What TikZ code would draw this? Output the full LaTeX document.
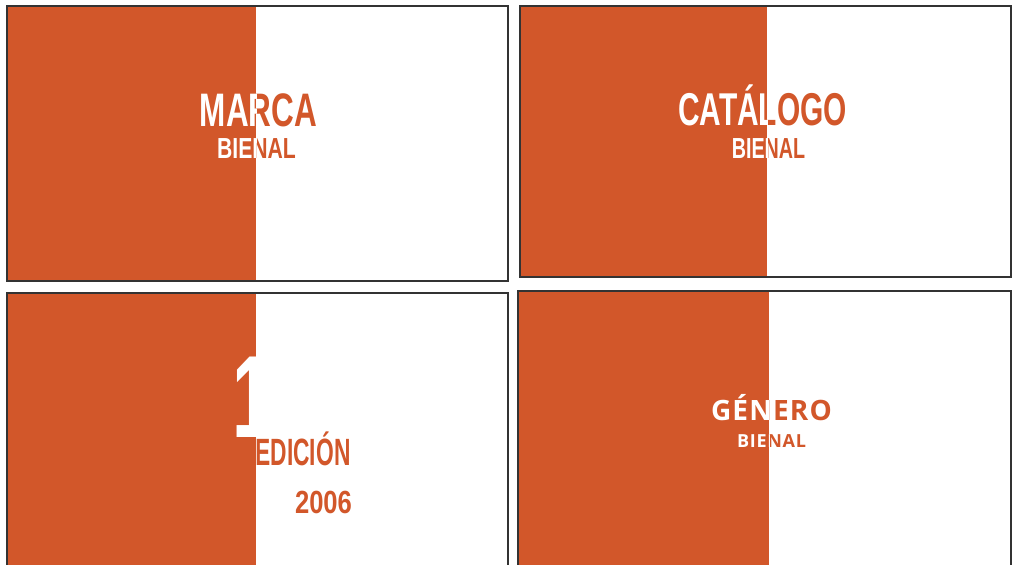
\documentclass[tikz,border=0pt]{standalone}
\usepackage{fontspec}
\setmainfont{Liberation Sans}
\newfontfamily\opensansfont[LetterSpace=4]{Open Sans}
\definecolor{bienorange}{HTML}{D2572A}
\definecolor{frame}{HTML}{333333}
\tikzset{
  panelframe/.style={draw=frame, line width=2.8pt},
  leftpart/.style={fill=bienorange, draw=none},
  rightpart/.style={fill=white, draw=none},
  condtext/.style={inner sep=0pt, anchor=base, font=\bfseries},
  ortext/.style={text=bienorange},
  whtext/.style={text=white},
}
\newcommand\cond[3]{\scalebox{#1}[1]{\fontsize{#2}{#2}\selectfont #3}}
\begin{document}
\begin{tikzpicture}[x=1pt,y=-1pt]
\useasboundingbox (0,0) rectangle (1013,565);
\fill[white] (0,0) rectangle (1013,565);

% ---------- Panel 1: MARCA ----------
\fill[leftpart] (7,6) rectangle (256,281);
\fill[rightpart] (256,6) rectangle (508,281);
\node[condtext,ortext] (marca) at (258.5,126) {\cond{0.67}{47}{MARCA}};
\node[condtext,ortext] (bienalA) at (256.5,158) {\cond{0.73}{29}{BIENAL}};
\begin{scope}
\clip (7,6) rectangle (256,281);
\node[condtext,whtext] (marcaW) at (258.5,126) {\cond{0.67}{47}{MARCA}};
\node[condtext,whtext] (bienalAW) at (256.5,158) {\cond{0.73}{29}{BIENAL}};
\end{scope}
\draw[panelframe] (7,6) rectangle (508,281);

% ---------- Panel 2: CATÁLOGO ----------
\fill[leftpart] (520,6) rectangle (767,277);
\fill[rightpart] (767,6) rectangle (1011,277);
\node[condtext,ortext] (catalogo) at (762.5,125) {\cond{0.65}{46}{CATÁLOGO}};
\node[condtext,ortext] (bienalB) at (768.5,158) {\cond{0.68}{29}{BIENAL}};
\begin{scope}
\clip (520,6) rectangle (767,277);
\node[condtext,whtext] (catalogoW) at (762.5,125) {\cond{0.65}{46}{CATÁLOGO}};
\node[condtext,whtext] (bienalBW) at (768.5,158) {\cond{0.68}{29}{BIENAL}};
\end{scope}
\draw[panelframe] (520,6) rectangle (1011,277);

% ---------- Panel 3: 1 EDICIÓN 2006 ----------
\fill[leftpart] (7,293) rectangle (256,570);
\fill[rightpart] (256,293) rectangle (508,570);
\node[condtext,whtext,anchor=base west] (uno) at (232,437) {\cond{0.62}{117}{1}};
\node[condtext,ortext] (edicion) at (303,465) {\cond{0.60}{38}{EDICIÓN}};
\node[condtext,ortext] (anio) at (323.5,513) {\cond{0.80}{32}{2006}};
\begin{scope}
\clip (7,293) rectangle (256,570);
\node[condtext,whtext] (edicionW) at (303,465) {\cond{0.60}{38}{EDICIÓN}};
\end{scope}
\draw[panelframe] (7,293) rectangle (508,570);

% ---------- Panel 4: GÉNERO ----------
\fill[leftpart] (518,291) rectangle (769,570);
\fill[rightpart] (769,291) rectangle (1011,570);
\node[inner sep=0pt, anchor=base, text=bienorange] (genero) at (771.5,420) {\opensansfont\bfseries\fontsize{28}{28}\selectfont GÉNERO};
\node[inner sep=0pt, anchor=base, text=bienorange] (bienalD) at (771.5,447) {\opensansfont\bfseries\fontsize{18}{18}\selectfont BIENAL};
\begin{scope}
\clip (518,291) rectangle (769,570);
\node[inner sep=0pt, anchor=base, text=white] (generoW) at (771.5,420) {\opensansfont\bfseries\fontsize{28}{28}\selectfont GÉNERO};
\node[inner sep=0pt, anchor=base, text=white] (bienalDW) at (771.5,447) {\opensansfont\bfseries\fontsize{18}{18}\selectfont BIENAL};
\end{scope}
\draw[panelframe] (518,291) rectangle (1011,570);
\end{tikzpicture}
\end{document}
